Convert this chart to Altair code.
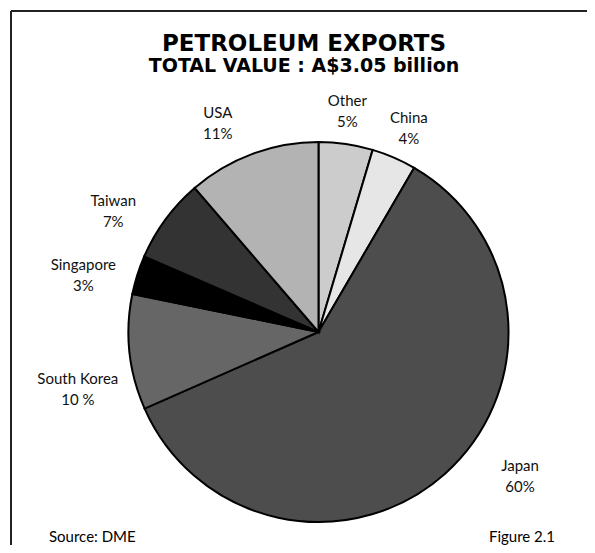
import altair as alt
import pandas as pd

# ---- data ----
COUNTRIES = ["Other", "China", "Japan", "South Korea", "Singapore", "Taiwan", "USA"]
VALUES = [4.6, 3.8, 60.0, 9.8, 3.3, 7.2, 11.3]          # share of export value, %
PCT_LABELS = ["5%", "4%", "60%", "10 %", "3%", "7%", "11%"]
SHADES = ["#cccccc", "#e6e6e6", "#4d4d4d", "#666666", "#000000", "#333333", "#b3b3b3"]

TITLE = "PETROLEUM EXPORTS"
SUBTITLE = "TOTAL VALUE :  A$3.05 billion"
SOURCE = "Source: DME"
FIGURE = "Figure 2.1"

df = pd.DataFrame({
    "country": COUNTRIES,
    "value": VALUES,
    "order": list(range(len(COUNTRIES))),
    "label": [f"{c}\n{p}" for c, p in zip(COUNTRIES, PCT_LABELS)],
})

# ---- layout ----
W, H = 579, 537
CX, CY = 310.5, 324
R = 190
LR = 235
# annotation nudges for label placement (pixels)
NUDGE = {
    "Other": (-5, 12), "China": (-3, 12), "Japan": (45, -31),
    "South Korea": (-7, 32), "Singapore": (-11, 14), "Taiwan": (-16, 19),
    "USA": (-19, 12),
}
LABEL_FONT = "Lato"
TITLE_FONT = "DejaVu Sans"

color_scale = alt.Scale(domain=COUNTRIES, range=SHADES)

pie = alt.Chart(df).mark_arc(radius=R, stroke="black", strokeWidth=2).encode(
    theta=alt.Theta("value:Q", stack=True),
    order=alt.Order("order:Q"),
    color=alt.Color("country:N", scale=color_scale, legend=None),
    x=alt.value(CX),
    y=alt.value(CY),
)

lab_base = (
    alt.Chart(df)
    .transform_joinaggregate(total="sum(value)")
    .transform_window(cum="sum(value)", sort=[alt.SortField("order")], frame=[None, 0])
    .transform_calculate(mid="(datum.cum - datum.value/2) / datum.total * 2 * PI")
    .transform_calculate(
        lx=f"{CX} + {LR} * sin(datum.mid)",
        ly=f"{CY} - {LR} * cos(datum.mid)",
    )
)

label_layers = []
for c in COUNTRIES:
    dx, dy = NUDGE[c]
    label_layers.append(
        lab_base.transform_filter(alt.datum.country == c)
        .mark_text(font=LABEL_FONT, fontSize=15, color="#111111", lineBreak="\n",
                   lineHeight=21, align="center", baseline="middle",
                   dx=dx, dy=dy - 10.5)
        .encode(
            x=alt.X("lx:Q", scale=None, axis=None),
            y=alt.Y("ly:Q", scale=None, axis=None),
            text="label:N",
        )
    )

one = alt.Data(values=[{}])


def note(txt, x, y, size, weight="normal", align="center", font=LABEL_FONT):
    return alt.Chart(one).mark_text(
        font=font, fontSize=size, fontWeight=weight, color="#000000",
        align=align, baseline="alphabetic"
    ).encode(x=alt.value(x), y=alt.value(y), text=alt.value(txt))


title = note(TITLE, 296, 43, 23, "bold", font=TITLE_FONT)
subtitle = note(SUBTITLE, 296, 64, 19, "bold", font=TITLE_FONT)
source = note(SOURCE, 41, 534, 15, align="left")
figure = note(FIGURE, 514, 534, 15)

frame_top = alt.Chart(one).mark_rule(color="#222222", strokeWidth=2).encode(
    x=alt.value(3), x2=alt.value(W + 10), y=alt.value(3))
frame_left = alt.Chart(one).mark_rule(color="#222222", strokeWidth=2).encode(
    x=alt.value(3), y=alt.value(3), y2=alt.value(H + 10))

chart = alt.layer(
    frame_top, frame_left, pie, *label_layers, title, subtitle, source, figure
).properties(
    width=W, height=H, padding=0, autosize=alt.AutoSizeParams(type="none")
).configure_view(stroke=None)

chart.save("out.html", embed_options={"renderer": "svg", "actions": False})
